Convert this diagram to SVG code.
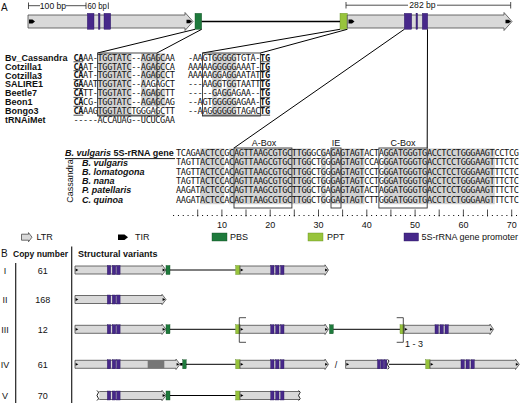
<svg xmlns="http://www.w3.org/2000/svg" width="520" height="403" viewBox="0 0 520 403">
<style>
text{font-family:"Liberation Sans",Arial,sans-serif;fill:#111}
.t9{font-size:9px}
.b{font-weight:bold}
.bi{font-weight:bold;font-style:italic}
.seq{font-family:"DejaVu Sans Mono","Liberation Mono",monospace;font-size:8.6px}
.ltr{fill:#d9d9d9;stroke:#4a4a4a;stroke-width:0.8}
.tir{fill:#000}
.pro{fill:#47288a;stroke:#2a1560;stroke-width:0.4}
.pbs{fill:#1e7a3c;stroke:#0f4d22;stroke-width:0.4}
.ppt{fill:#98c43c;stroke:#5f8a1c;stroke-width:0.4}
.sh{fill:#d2d2d2}
.box{fill:none;stroke:#333;stroke-width:0.9}
.ln{stroke:#000;stroke-width:1;fill:none}
.thin{stroke:#222;stroke-width:0.8;fill:none}
.ul{stroke:#000;stroke-width:0.7}
.wv{stroke:#000;stroke-width:0.9;fill:none}
</style>

<!-- ===== Panel A: gene structure ===== -->
<g id="panel-A-label"><text class="t9" x="1" y="11" style="font-size:10px">A</text></g>
<g id="scale-bars" class="thin">
  <path d="M28.5,2.5v6.5M28.5,5.7H40M66,5.7H86M86,2.5v6.5M108.3,2.5v6.5"/>
  <path d="M346,2v6.5M346,5.2H408M437,5.2H510.7M510.7,2v6.5"/>
</g>
<g id="scale-texts">
  <text class="t9" x="53" y="8.8" text-anchor="middle" style="font-size:8.6px">100 bp</text>
  <text class="t9" x="97.2" y="8.8" text-anchor="middle" textLength="19.5" lengthAdjust="spacingAndGlyphs" style="font-size:8.6px">60 bp</text>
  <text class="t9" x="422.5" y="8.3" text-anchor="middle" style="font-size:8.6px">282 bp</text>
</g>
<g id="ltr-5prime">
  <polygon class="ltr" points="28,15 185,15 185,12.5 193,21.5 185,30.5 185,28 28,28"/>
  <polygon class="tir" points="29,19.6 32.5,19.6 35,21.5 32.5,23.4 29,23.4"/>
  <polygon class="tir" points="186.5,19.8 189.5,19.8 192,21.5 189.5,23.2 186.5,23.2"/>
  <rect class="pro" x="87.3" y="13.3" width="6.7" height="16"/>
  <rect class="pro" x="98.4" y="13.3" width="1.6" height="16"/>
  <rect class="pro" x="104" y="13.3" width="6.7" height="16"/>
</g>
<g id="pbs-top"><rect class="pbs" x="195" y="13.3" width="6.7" height="16"/></g>
<g id="ppt-top"><rect class="ppt" x="340" y="13.3" width="7.3" height="16"/></g>
<g id="ltr-3prime">
  <polygon class="ltr" points="347.3,15 504,15 504,12.5 512,21.5 504,30.5 504,28 347.3,28"/>
  <polygon class="tir" points="348.5,19.6 352,19.6 354.5,21.5 352,23.4 348.5,23.4"/>
  <polygon class="tir" points="505.5,19.8 508.5,19.8 511,21.5 508.5,23.2 505.5,23.2"/>
  <rect class="pro" x="404.3" y="13.3" width="7.4" height="16"/>
  <rect class="pro" x="416" y="13.3" width="1.6" height="16"/>
  <rect class="pro" x="422.3" y="13.3" width="5.4" height="16"/>
</g>

<!-- connectors -->
<g id="connectors" class="ln">
  <line x1="201.7" y1="21.5" x2="340" y2="21.5" stroke-width="1.3"/>
  <line x1="195" y1="29.3" x2="97.6" y2="53"/>
  <line x1="201.7" y1="29.3" x2="157" y2="53"/>
  <line x1="340" y1="29.3" x2="202.5" y2="53"/>
  <line x1="347.3" y1="29.3" x2="260.4" y2="53"/>
  <line x1="404.3" y1="29.3" x2="234" y2="148"/>
  <line x1="427.5" y1="29.3" x2="427.2" y2="148"/>
</g>

<!-- ===== LTR alignment ===== -->
<g id="ltr-alignment">
  <g id="align-shading" class="sh">
    <rect x="97.65" y="53.05" width="33.81" height="62.3"/>
    <rect x="141.12" y="53.05" width="4.83" height="53.4"/>
    <rect x="145.95" y="53.05" width="19.32" height="26.7"/>
    <rect x="145.95" y="88.65" width="19.32" height="17.8"/>
    <rect x="212.15" y="53.05" width="24.15" height="17.8"/>
    <rect x="212.15" y="70.85" width="9.66" height="17.8"/>
    <rect x="226.64" y="70.85" width="9.66" height="17.8"/>
    <rect x="212.15" y="88.65" width="4.83" height="8.9"/>
    <rect x="221.81" y="88.65" width="9.66" height="8.9"/>
    <rect x="212.15" y="97.55" width="24.15" height="17.8"/>
  </g>
  <g id="align-names" class="t9 b">
    <text x="5" y="60.7">Bv_Cassandra</text>
    <text x="5" y="69.6">Cotzilla1</text>
    <text x="5" y="78.5">Cotzilla3</text>
    <text x="5" y="87.4">SALIRE1</text>
    <text x="5" y="96.3">Beetle7</text>
    <text x="5" y="105.2">Beon1</text>
    <text x="5" y="114.1">Bongo3</text>
    <text x="5" y="123">tRNAiMet</text>
  </g>
  <g id="align-seq-pbs">
    <text class="seq" x="73.5" y="60.6" textLength="101.43" lengthAdjust="spacing"><tspan font-weight="bold">CA</tspan>AA-TGGTATC--AGAGCAA</text>
    <text class="seq" x="73.5" y="69.5" textLength="101.43" lengthAdjust="spacing"><tspan font-weight="bold">CA</tspan>AT-TGGTATC--AGAGCCA</text>
    <text class="seq" x="73.5" y="78.4" textLength="101.43" lengthAdjust="spacing"><tspan font-weight="bold">CA</tspan>AT-TGGTATC--AGAGCCT</text>
    <text class="seq" x="73.5" y="87.3" textLength="101.43" lengthAdjust="spacing"><tspan font-weight="bold">GA</tspan>AATTGGTATC--AAGAGCT</text>
    <text class="seq" x="73.5" y="96.2" textLength="101.43" lengthAdjust="spacing"><tspan font-weight="bold">CA</tspan>TT-TGGTATC--AGAGCTT</text>
    <text class="seq" x="73.5" y="105.1" textLength="101.43" lengthAdjust="spacing"><tspan font-weight="bold">CA</tspan>CG-TGGTATC--AGAGCAG</text>
    <text class="seq" x="73.5" y="114" textLength="101.43" lengthAdjust="spacing"><tspan font-weight="bold">CA</tspan>AAGTGGTATCTGGGAGCTT</text>
    <text class="seq" x="73.5" y="122.9" textLength="101.43" lengthAdjust="spacing">-----ACCAUAG--UCUCGAA</text>
  </g>
  <g id="align-seq-ppt">
    <text class="seq" x="188" y="60.6" textLength="82.11" lengthAdjust="spacing">-AAGTGGGGGTGTA-<tspan font-weight="bold">TG</tspan></text>
    <text class="seq" x="188" y="69.5" textLength="82.11" lengthAdjust="spacing">AAAAAGGGGGAAAT-<tspan font-weight="bold">TG</tspan></text>
    <text class="seq" x="188" y="78.4" textLength="82.11" lengthAdjust="spacing">AAAAAGGAGGAATAT<tspan font-weight="bold">TG</tspan></text>
    <text class="seq" x="188" y="87.3" textLength="82.11" lengthAdjust="spacing">---AAGGTGGTAATT<tspan font-weight="bold">TG</tspan></text>
    <text class="seq" x="188" y="96.2" textLength="82.11" lengthAdjust="spacing">-----GAGGAGAA--<tspan font-weight="bold">TG</tspan></text>
    <text class="seq" x="188" y="105.1" textLength="82.11" lengthAdjust="spacing">--AGTGGGGGAGAA-<tspan font-weight="bold">TG</tspan></text>
    <text class="seq" x="188" y="114" textLength="82.11" lengthAdjust="spacing">--AAGGGGGGTAGAC<tspan font-weight="bold">TG</tspan></text>
  </g>
  <g id="align-underlines" class="ul">
    <path d="M73.5,61.8h9.66M73.5,70.7h9.66M73.5,79.6h9.66M73.5,88.5h9.66M73.5,97.4h9.66M73.5,106.3h9.66M73.5,115.2h9.66"/>
    <path d="M97.65,115.2h67.6M202.5,115.2h58"/>
    <path d="M260.45,61.8h9.66M260.45,70.7h9.66M260.45,79.6h9.66M260.45,88.5h9.66M260.45,97.4h9.66M260.45,106.3h9.66M260.45,115.2h9.66"/>
  </g>
  <g id="align-boxes" class="box">
    <rect x="97.6" y="53" width="59.4" height="63"/>
    <rect x="202.5" y="53" width="57.9" height="63"/>
  </g>
</g>

<!-- ===== 5S alignment ===== -->
<g id="rrna-alignment">
  <g id="rrna-shading" class="sh">
    <rect x="200.15" y="148.4" width="24.15" height="55.8"/>
    <rect x="229.13" y="148.4" width="82.11" height="55.8"/>
    <rect x="320.9" y="148.4" width="4.83" height="55.8"/>
    <rect x="330.56" y="148.4" width="33.81" height="55.8"/>
    <rect x="383.69" y="148.4" width="111.09" height="55.8"/>
  </g>
  <g id="rrna-header">
    <text class="t9 b" x="65" y="156.2"><tspan font-style="italic">B. vulgaris</tspan> 5S-rRNA gene</text>
    <line x1="65" y1="158.6" x2="175" y2="158.6" stroke="#000" stroke-width="0.9"/>
  </g>
  <g id="rrna-species" class="t9 bi">
    <text x="82" y="165.5">B. vulgaris</text>
    <text x="82" y="174.8">B. lomatogona</text>
    <text x="82" y="184.1">B. nana</text>
    <text x="82" y="193.4">P. patellaris</text>
    <text x="82" y="202.7">C. quinoa</text>
  </g>
  <g id="cassandra-label"><text class="t9" transform="translate(73,181) rotate(-90)" text-anchor="middle">Cassandra</text></g>
  <g id="rrna-seqs">
    <text class="seq" x="176" y="156.1" textLength="342.93" lengthAdjust="spacing">TCAGAACTCCGCAGTTAAGCGTGCTTGGGCGAGAGTAGTACTAGGATGGGTGACCTCCTGGGAAGTCCTCG</text>
    <text class="seq" x="176" y="165.4" textLength="342.93" lengthAdjust="spacing">TAGTTACTCCACAGTTAAGCGTGCTTGGCTGGGAGTAGTCCAGGGATGGGTGACCTCCTGGGAAGTTTCTC</text>
    <text class="seq" x="176" y="174.7" textLength="342.93" lengthAdjust="spacing">TAGTTACTCCACAGTTAAGCGTGCTTGGCTGGGAGTAGTCCTGGGATGGGTGACCTCCTGGGAAGTTTCTC</text>
    <text class="seq" x="176" y="184" textLength="342.93" lengthAdjust="spacing">TAGTTACTCCACAGTTAAGCGTGCTTGGCTGGGAGTAGTCCTGGGATGGGTGACCTCCTGGGAAGTTTCTC</text>
    <text class="seq" x="176" y="193.3" textLength="342.93" lengthAdjust="spacing">AAGATACTCCGCAGTTAAGCGTGCTTGGCTGAGAGTAGTACTAGGATGGGTGACCTCCTGGGAAGTTTCTC</text>
    <text class="seq" x="176" y="202.6" textLength="342.93" lengthAdjust="spacing">AAGATACTCCACAGTTAAGCGTGCTTGGCTGGGAGTAGTCTTGGGATGGGTGACCTCCTGGGAAGTTTCTC</text>
  </g>
  <g id="rrna-boxes" class="box">
    <rect x="234" y="148" width="57.9" height="60"/>
    <rect x="331" y="148" width="10" height="60"/>
    <rect x="378.9" y="148" width="48.3" height="60"/>
  </g>
  <g id="rrna-box-labels" class="t9">
    <text x="264" y="145.8" text-anchor="middle">A-Box</text>
    <text x="336" y="145.8" text-anchor="middle">IE</text>
    <text x="403" y="145.8" text-anchor="middle">C-Box</text>
  </g>
  <g id="ruler">
    <line x1="173.1" y1="215.5" x2="518" y2="215.5" stroke="#000" stroke-width="1" stroke-dasharray="1 3.83"/>
    <path class="thin" stroke="#000" d="M197.7,209.5v7M221.9,209.5v7M246,209.5v7M270.2,209.5v7M294.3,209.5v7M318.5,209.5v7M342.6,209.5v7M366.8,209.5v7M390.9,209.5v7M415.1,209.5v7M439.2,209.5v7M463.4,209.5v7M487.5,209.5v7M511.7,209.5v7"/>
    <g class="t9" text-anchor="middle">
      <text x="221.9" y="228.3">10</text>
      <text x="270.2" y="228.3">20</text>
      <text x="318.5" y="228.3">30</text>
      <text x="366.8" y="228.3">40</text>
      <text x="415.1" y="228.3">50</text>
      <text x="463.4" y="228.3">60</text>
      <text x="511.7" y="228.3">70</text>
    </g>
  </g>
</g>

<!-- ===== Legend ===== -->
<g id="legend">
  <g id="legend-ltr"><polygon class="ltr" points="21.5,234.2 28.5,234.2 28.5,232.6 32,237.2 28.5,241.8 28.5,240.2 21.5,240.2"/><text class="t9" x="36.5" y="240.3">LTR</text></g>
  <g id="legend-tir"><polygon class="tir" points="118,234.5 124.5,234.5 128,237.2 124.5,239.9 118,239.9"/><text class="t9" x="135" y="240.3">TIR</text></g>
  <g id="legend-pbs"><rect class="pbs" x="212" y="233" width="15" height="8"/><text class="t9" x="230" y="240.3">PBS</text></g>
  <g id="legend-ppt"><rect class="ppt" x="308" y="233" width="15" height="8"/><text class="t9" x="327" y="240.3">PPT</text></g>
  <g id="legend-promoter"><rect class="pro" x="404" y="233" width="14.5" height="8"/><text class="t9" x="421.5" y="240.3">5S-rRNA gene promoter</text></g>
</g>

<!-- ===== Panel B ===== -->
<g id="panel-B-header">
  <text x="1" y="257" style="font-size:10px">B</text>
  <text class="t9 b" x="13" y="256.5" textLength="55" lengthAdjust="spacingAndGlyphs">Copy number</text>
  <text class="t9 b" x="78" y="256.5">Structural variants</text>
  <line x1="71.7" y1="246.5" x2="71.7" y2="403" stroke="#222" stroke-width="1.2"/>
  <line x1="15.7" y1="263" x2="15.7" y2="403" stroke="#222" stroke-width="1.2"/>
</g>
<g id="copy-numbers" class="t9">
  <text x="5" y="273.8" text-anchor="middle">I</text><text x="42.7" y="273.8" text-anchor="middle">61</text>
  <text x="5" y="303.3" text-anchor="middle">II</text><text x="42.7" y="303.3" text-anchor="middle">168</text>
  <text x="5" y="333.1" text-anchor="middle">III</text><text x="42.7" y="333.1" text-anchor="middle">12</text>
  <text x="5" y="368.1" text-anchor="middle">IV</text><text x="42.7" y="368.1" text-anchor="middle">61</text>
  <text x="5" y="399.3" text-anchor="middle">V</text><text x="42.7" y="399.3" text-anchor="middle">70</text>
</g>

<g id="variant-I">
  <polygon class="ltr" points="75,266 162,266 162,264.8 166,270 162,275.2 162,274 75,274"/>
  <polygon class="tir" points="75.6,268.6 78.4,270 75.6,271.4"/>
  <polygon class="tir" points="162.6,268.6 165.4,270 162.6,271.4"/>
  <rect class="pro" x="107.3" y="265.5" width="3.4" height="9"/><rect class="pro" x="112.3" y="265.5" width="3.4" height="9"/><rect class="pro" x="116.7" y="265.5" width="3.4" height="9"/>
  <rect class="pbs" x="166" y="265.5" width="4" height="9"/>
  <line class="ln" x1="170" y1="270" x2="235.7" y2="270"/>
  <rect class="ppt" x="235.7" y="265.5" width="4.3" height="9"/>
  <polygon class="ltr" points="240,266 325,266 325,264.8 328.5,270 325,275.2 325,274 240,274"/>
  <polygon class="tir" points="240.6,268.6 243.4,270 240.6,271.4"/>
  <polygon class="tir" points="325.1,268.6 327.9,270 325.1,271.4"/>
  <rect class="pro" x="270.7" y="265.5" width="3.3" height="9"/><rect class="pro" x="275.7" y="265.5" width="3.3" height="9"/><rect class="pro" x="280.7" y="265.5" width="3.3" height="9"/>
</g>

<g id="variant-II">
  <polygon class="ltr" points="75,295.5 162,295.5 162,294.3 166,299.5 162,304.7 162,303.5 75,303.5"/>
  <polygon class="tir" points="75.6,298.1 78.4,299.5 75.6,300.9"/>
  <polygon class="tir" points="162.6,298.1 165.4,299.5 162.6,300.9"/>
  <rect class="pro" x="107.3" y="295" width="3.4" height="9"/><rect class="pro" x="112.3" y="295" width="3.4" height="9"/><rect class="pro" x="116.7" y="295" width="3.4" height="9"/>
</g>

<g id="variant-III">
  <polygon class="ltr" points="75,325.3 162,325.3 162,324.1 166,329.3 162,334.5 162,333.3 75,333.3"/>
  <polygon class="tir" points="75.6,327.9 78.4,329.3 75.6,330.7"/>
  <polygon class="tir" points="162.6,327.9 165.4,329.3 162.6,330.7"/>
  <rect class="pro" x="107.3" y="324.8" width="3.4" height="9"/><rect class="pro" x="112.3" y="324.8" width="3.4" height="9"/><rect class="pro" x="116.7" y="324.8" width="3.4" height="9"/>
  <rect class="pbs" x="166" y="324.8" width="4" height="9"/>
  <line class="ln" x1="170" y1="329.3" x2="235.7" y2="329.3"/>
  <rect class="ppt" x="235.7" y="324.8" width="4.3" height="9"/>
  <path class="thin" d="M246,317.7H239.3V342.3H246"/>
  <polygon class="ltr" points="240,325.3 325,325.3 325,324.1 328.5,329.3 325,334.5 325,333.3 240,333.3"/>
  <polygon class="tir" points="240.6,327.9 243.4,329.3 240.6,330.7"/>
  <polygon class="tir" points="325.1,327.9 327.9,329.3 325.1,330.7"/>
  <rect class="pro" x="270.7" y="324.8" width="3.3" height="9"/><rect class="pro" x="275.7" y="324.8" width="3.3" height="9"/><rect class="pro" x="280.7" y="324.8" width="3.3" height="9"/>
  <rect class="pbs" x="329.5" y="324.8" width="3.8" height="9"/>
  <line class="ln" x1="333.3" y1="329.3" x2="400" y2="329.3"/>
  <rect class="ppt" x="400" y="324.8" width="4.2" height="9"/>
  <path class="thin" d="M396.7,317.7H403.3V342.3H396.7"/>
  <text class="t9" x="405" y="346.5">1 - 3</text>
  <polygon class="ltr" points="404.2,325.3 490,325.3 490,324.1 493.5,329.3 490,334.5 490,333.3 404.2,333.3"/>
  <polygon class="tir" points="404.8,327.9 407.6,329.3 404.8,330.7"/>
  <polygon class="tir" points="490.1,327.9 492.9,329.3 490.1,330.7"/>
  <rect class="pro" x="435" y="324.8" width="3.3" height="9"/><rect class="pro" x="440" y="324.8" width="3.3" height="9"/><rect class="pro" x="445" y="324.8" width="3.3" height="9"/>
</g>

<g id="variant-IV">
  <polygon class="ltr" points="75,360.3 176,360.3 176,359.1 180,364.3 176,369.5 176,368.3 75,368.3"/>
  <polygon class="tir" points="75.6,362.9 78.4,364.3 75.6,365.7"/>
  <polygon class="tir" points="176.6,362.9 179.4,364.3 176.6,365.7"/>
  <rect x="147.7" y="360.3" width="16.6" height="8" fill="#767676"/>
  <rect class="pro" x="107.3" y="359.8" width="3.4" height="9"/><rect class="pro" x="112.3" y="359.8" width="3.4" height="9"/><rect class="pro" x="116.7" y="359.8" width="3.4" height="9"/>
  <rect class="tir" x="180.2" y="363" width="2.5" height="2.6"/>
  <rect class="pbs" x="182.7" y="359.8" width="3.5" height="9"/>
  <line class="ln" x1="186" y1="364.3" x2="235.7" y2="364.3"/>
  <rect class="ppt" x="235.7" y="359.8" width="4.3" height="9"/>
  <polygon class="ltr" points="240,360.3 325,360.3 325,359.1 328.5,364.3 325,369.5 325,368.3 240,368.3"/>
  <polygon class="tir" points="240.6,362.9 243.4,364.3 240.6,365.7"/>
  <polygon class="tir" points="325.1,362.9 327.9,364.3 325.1,365.7"/>
  <rect class="pro" x="270.7" y="359.8" width="3.3" height="9"/><rect class="pro" x="275.7" y="359.8" width="3.3" height="9"/><rect class="pro" x="280.7" y="359.8" width="3.3" height="9"/>
  <text class="t9" x="336" y="367.5" text-anchor="middle">/</text>
  <rect class="ltr" x="345.7" y="360.3" width="41" height="8"/>
  <polygon class="tir" points="346.4,362.9 349.2,364.3 346.4,365.7"/>
  <rect class="pro" x="377.5" y="359.8" width="2.7" height="9"/><rect class="pro" x="381" y="359.8" width="2.7" height="9"/><rect class="pro" x="384.3" y="359.8" width="2.4" height="9"/>
  <path class="wv" d="M387.6,359.3Q390.2,361 388.2,362.6Q386.6,364.3 388.2,366Q390.2,367.6 387.6,369.3"/>
  <line class="ln" x1="389" y1="364.3" x2="425.7" y2="364.3"/>
  <rect class="ppt" x="425.7" y="359.8" width="4.3" height="9"/>
  <polygon class="ltr" points="430,360.3 515.5,360.3 515.5,359.1 519.3,364.3 515.5,369.5 515.5,368.3 430,368.3"/>
  <polygon class="tir" points="430.6,362.9 433.4,364.3 430.6,365.7"/>
  <polygon class="tir" points="515.8,362.9 518.6,364.3 515.8,365.7"/>
  <rect class="pro" x="461" y="359.8" width="3.3" height="9"/><rect class="pro" x="466" y="359.8" width="3.3" height="9"/><rect class="pro" x="471" y="359.8" width="3.3" height="9"/>
</g>

<g id="variant-V">
  <path class="ltr" d="M99.3,391.5H162V390.3L166,395.5L162,400.7V399.5H99.3"/>
  <path class="wv" d="M97,390.5Q99.8,392.2 97.8,393.8Q96.2,395.5 97.8,397.2Q99.8,398.8 97,400.5"/>
  <polygon class="tir" points="162.6,394.1 165.4,395.5 162.6,396.9"/>
  <rect class="pro" x="107.3" y="391" width="3.4" height="9"/><rect class="pro" x="112.3" y="391" width="3.4" height="9"/><rect class="pro" x="116.7" y="391" width="3.4" height="9"/>
  <rect class="pbs" x="166" y="391" width="4" height="9"/>
  <line class="ln" x1="170" y1="395.5" x2="235.7" y2="395.5"/>
  <rect class="ppt" x="235.7" y="391" width="4.3" height="9"/>
  <path class="ltr" d="M299,391.5H240V399.5H299"/>
  <polygon class="tir" points="240.6,394.1 243.4,395.5 240.6,396.9"/>
  <path class="wv" d="M298.6,390.5Q301.4,392.2 299.4,393.8Q297.8,395.5 299.4,397.2Q301.4,398.8 298.6,400.5"/>
  <rect class="pro" x="270.7" y="391" width="3.3" height="9"/><rect class="pro" x="275.7" y="391" width="3.3" height="9"/><rect class="pro" x="280.7" y="391" width="3.3" height="9"/>
</g>
</svg>
